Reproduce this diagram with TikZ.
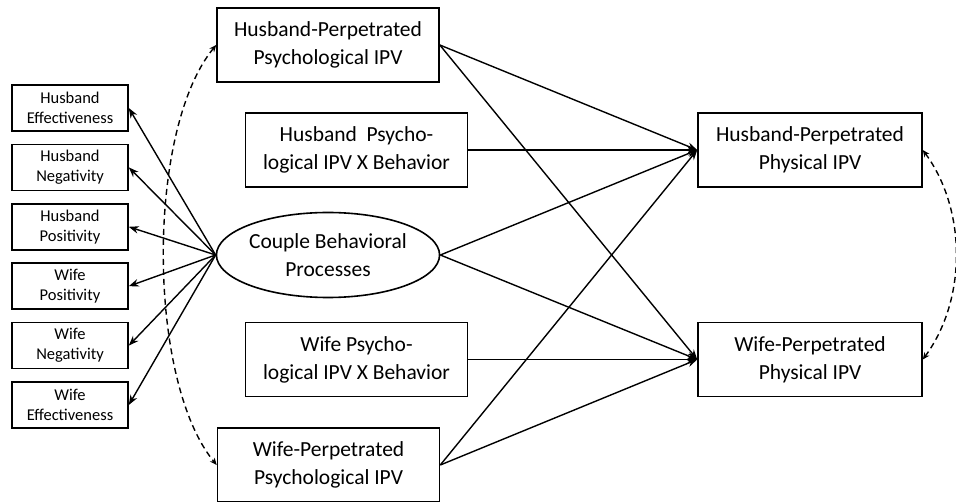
\documentclass[tikz,border=0pt]{standalone}
\usepackage{fontspec}
\setmainfont{Carlito}
\usetikzlibrary{arrows.meta,shapes.geometric}

\tikzset{
  bigbox/.style={draw, line width=1.6pt, minimum width=222pt, minimum height=74pt,
    inner sep=0pt, align=center, font=\fontsize{21.5}{28}\selectfont},
  smallbox/.style={draw, line width=1.6pt, minimum width=116pt, minimum height=46pt,
    inner sep=0pt, align=center, font=\fontsize{16.5}{20}\selectfont},
  arr/.style={-{Stealth[length=10pt,width=7.5pt]}, line width=1.4pt},
  corr/.style={{Stealth[length=7pt,width=6pt]}-{Stealth[length=7pt,width=6pt]},
    dash pattern=on 6pt off 4pt, line width=1.4pt}
}

\begin{document}
\begin{tikzpicture}[x=1pt,y=-1pt]
 \useasboundingbox (0,0) rectangle (956,502);

 % behaviour codes
 \foreach \i/\name/\txt in {0/he/Husband\\Effectiveness, 1/hn/Husband\\Negativity, 2/hp/Husband\\Positivity,
                            3/wp/Wife\\Positivity, 4/wn/Wife\\Negativity, 5/we/Wife\\Effectiveness} {
   \node[smallbox] (\name) at (70, 108+59.4*\i) {\txt};
 }

 %middle column
 \node[bigbox] (hpsy) at (328,45) {Husband-Perpetrated\\Psychological IPV};
 \node[bigbox] (hxb) at (356.5,150) {Husband\ \ Psycho-\\logical IPV X Behavior};
 \node[draw, ellipse, line width=1.6pt, minimum width=222pt, minimum height=85pt, inner sep=0pt,
       align=center, font=\fontsize{21.5}{28}\selectfont] (cbp) at (328,255) {Couple Behavioral\\Processes};
 \node[bigbox] (wxb) at (356.5,359.5) {Wife Psycho-\\logical IPV X Behavior};
 \node[bigbox] (wpsy) at (328.5,465) {Wife-Perpetrated\\Psychological IPV};

 %outcomes
 \node[bigbox, minimum width=224pt] (hphys) at (810,150) {Husband-Perpetrated\\Physical IPV};
 \node[bigbox, minimum width=224pt] (wphys) at (810,359.5) {Wife-Perpetrated\\Physical IPV};

 % lines
 \foreach \n in {he,hn,hp,wp,wn,we}
   \draw[arr] (cbp.west) -- (\n.east);

 \foreach \s/\t in {hpsy/hphys, hpsy/wphys, hxb/hphys, cbp/hphys, cbp/wphys, wxb/wphys, wpsy/hphys, wpsy/wphys}
   \draw[arr] (\s.east) -- (\t.west);

 % covariances
 \draw[corr] (hpsy.west) .. controls +(-70,85) and +(-70,-85) .. (wpsy.west);
 \draw[corr] (hphys.east) .. controls +(44,60) and +(44,-60) .. (wphys.east);

\end{tikzpicture}
\end{document}
